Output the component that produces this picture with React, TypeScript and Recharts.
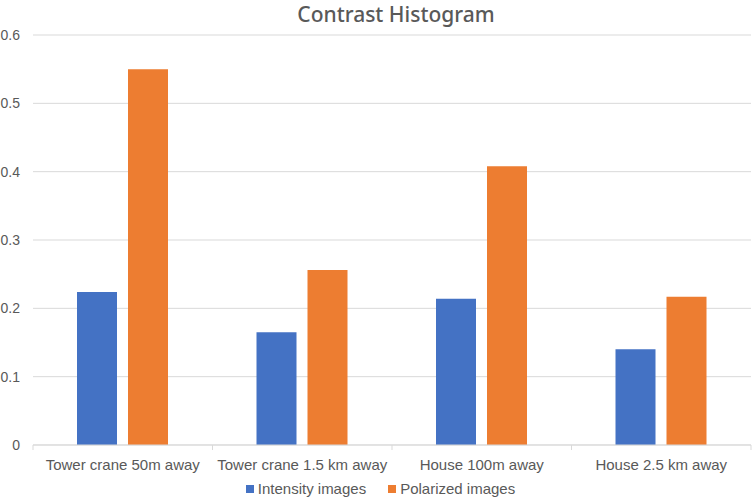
import { Bar, BarChart, CartesianGrid, Legend, XAxis, YAxis } from "recharts";

const categories = [
	"Tower crane 50m away",
	"Tower crane 1.5 km away",
	"House 100m away",
	"House 2.5 km away",
];
const intensity = [0.224, 0.165, 0.214, 0.14];
const polarized = [0.55, 0.256, 0.408, 0.217];
const yTicks = [0, 0.1, 0.2, 0.3, 0.4, 0.5, 0.6];

const BLUE = "#4472C4";
const ORANGE = "#ED7D31";
const TEXT = "#595959";
const GRID = "#d9d9d9";
const FONT = "'Liberation Sans', Arial, sans-serif";

const data = categories.map((name, i) => ({
	name,
	intensity: intensity[i],
	polarized: polarized[i],
}));

// label plus the boundary tick marks excel draws between categories
function CategoryTick(props: any) {
	const { x, y, payload, index } = props;
	const half = payload?.offset ?? 89.75;
	const axisY = y - 8;
	return (
		<g>
			<line x1={x - half} x2={x - half} y1={axisY} y2={axisY + 5} stroke={GRID} />
			{index === categories.length - 1 && (
				<line x1={x + half} x2={x + half} y1={axisY} y2={axisY + 5} stroke={GRID} />
			)}
			<text
				x={x}
				y={axisY + 25}
				textAnchor="middle"
				fill={TEXT}
				fontSize={15}
				fontFamily={FONT}
			>
				{payload.value}
			</text>
		</g>
	);
}

function LegendContent() {
	const items = [
		{ label: "Intensity images", color: BLUE },
		{ label: "Polarized images", color: ORANGE },
	];
	return (
		<div
			style={{
				display: "flex",
				justifyContent: "center",
				gap: 22,
				fontFamily: FONT,
				fontSize: 15,
				color: TEXT,
				paddingLeft: 10,
				paddingTop: 4,
			}}
		>
			{items.map((it) => (
				<div key={it.label} style={{ display: "flex", alignItems: "center", gap: 4 }}>
					<span style={{ width: 8, height: 8, background: it.color, display: "inline-block" }} />
					<span>{it.label}</span>
				</div>
			))}
		</div>
	);
}

export default function App() {
	return (
		<div style={{ position: "absolute", left: 0, top: 0, width: 754, height: 498, background: "#fff" }}>
			<div
				style={{
					position: "absolute",
					left: 396,
					top: 0,
					transform: "translateX(-50%)",
					fontFamily: "'Noto Sans', sans-serif",
					fontWeight: 500,
					fontSize: 21,
					color: TEXT,
					whiteSpace: "nowrap",
					lineHeight: "normal",
				}}
			>
				Contrast Histogram
			</div>
			<BarChart
				width={754}
				height={498}
				data={data}
				margin={{ top: 35, right: 3, left: 0, bottom: 0 }}
				barGap={11}
				barSize={40}
			>
				<CartesianGrid vertical={false} stroke={GRID} />
				<XAxis
					dataKey="name"
					axisLine={{ stroke: GRID }}
					tickLine={false}
					height={31}
					interval={0}
					tick={<CategoryTick />}
				/>
				<YAxis
					width={33}
					domain={[0, 0.6]}
					ticks={yTicks}
					axisLine={false}
					tickLine={false}
					tickSize={0}
					tickMargin={13}
					tick={{ fill: TEXT, fontSize: 14, fontFamily: FONT }}
				/>
				<Legend verticalAlign="bottom" height={22} content={<LegendContent />} />
				<Bar dataKey="intensity" name="Intensity images" fill={BLUE} isAnimationActive={false} />
				<Bar dataKey="polarized" name="Polarized images" fill={ORANGE} isAnimationActive={false} />
			</BarChart>
		</div>
	);
}
